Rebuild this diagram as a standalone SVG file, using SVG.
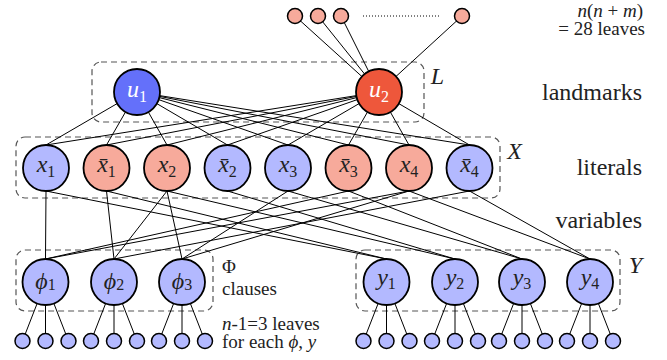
<svg xmlns="http://www.w3.org/2000/svg" width="667" height="360" viewBox="0 0 667 360">
<style>
.e{stroke:#000;stroke-width:1;fill:none}
.n{stroke:#000;stroke-width:1.8}
.lf{stroke:#000;stroke-width:1.5}
.b{fill:#b3b9ff}
.r{fill:#f7aa9b}
.ub{fill:#6470fa}
.ur{fill:#ee573b}
.box{fill:none;stroke:#555;stroke-width:1.2;stroke-dasharray:6 4}
text{font-family:'Liberation Serif','Times New Roman','DejaVu Serif',serif;fill:#222}
.lbl{font-size:24px;font-style:italic;text-anchor:middle}
.w{fill:#fff}
.sub{font-style:normal;font-size:16px}
.rt{font-size:24px;text-anchor:end}
.sm{font-size:19px}
.it{font-style:italic}
</style>
<rect width="667" height="360" fill="#fff"/>
<g id="boxes">
<rect class="box" x="92" y="62" width="332" height="60" rx="9"/>
<rect class="box" x="16" y="137" width="484" height="61" rx="9"/>
<rect class="box" x="16" y="250" width="197" height="61" rx="9"/>
<rect class="box" x="356" y="250" width="264" height="61" rx="9"/>
</g>
<g id="connectors">
<line class="e" x1="295" y1="16" x2="379" y2="92"/>
<line class="e" x1="318" y1="16" x2="379" y2="92"/>
<line class="e" x1="341" y1="16" x2="379" y2="92"/>
<line class="e" x1="462" y1="16" x2="379" y2="92"/>
<line x1="363" y1="16" x2="439" y2="16" stroke="#000" stroke-width="1" stroke-dasharray="1 2"/>
<line class="e" x1="137" y1="92" x2="46" y2="145"/>
<line class="e" x1="137" y1="92" x2="106.5" y2="145"/>
<line class="e" x1="137" y1="92" x2="167" y2="145"/>
<line class="e" x1="137" y1="92" x2="227.5" y2="145"/>
<line class="e" x1="137" y1="92" x2="288" y2="145"/>
<line class="e" x1="137" y1="92" x2="348.5" y2="145"/>
<line class="e" x1="137" y1="92" x2="409" y2="145"/>
<line class="e" x1="137" y1="92" x2="469.5" y2="145"/>
<line class="e" x1="379" y1="92" x2="46" y2="145"/>
<line class="e" x1="379" y1="92" x2="106.5" y2="145"/>
<line class="e" x1="379" y1="92" x2="167" y2="145"/>
<line class="e" x1="379" y1="92" x2="227.5" y2="145"/>
<line class="e" x1="379" y1="92" x2="288" y2="145"/>
<line class="e" x1="379" y1="92" x2="348.5" y2="145"/>
<line class="e" x1="379" y1="92" x2="409" y2="145"/>
<line class="e" x1="379" y1="92" x2="469.5" y2="145"/>
<line class="e" x1="46" y1="191" x2="45.5" y2="259"/>
<line class="e" x1="106.5" y1="191" x2="114" y2="259"/>
<line class="e" x1="167" y1="191" x2="114" y2="259"/>
<line class="e" x1="167" y1="191" x2="182" y2="259"/>
<line class="e" x1="288" y1="191" x2="182" y2="259"/>
<line class="e" x1="348.5" y1="191" x2="45.5" y2="259"/>
<line class="e" x1="409" y1="191" x2="45.5" y2="259"/>
<line class="e" x1="409" y1="191" x2="182" y2="259"/>
<line class="e" x1="469.5" y1="191" x2="114" y2="259"/>
<line class="e" x1="46" y1="191" x2="386.5" y2="259"/>
<line class="e" x1="106.5" y1="191" x2="386.5" y2="259"/>
<line class="e" x1="167" y1="191" x2="455" y2="259"/>
<line class="e" x1="227.5" y1="191" x2="455" y2="259"/>
<line class="e" x1="288" y1="191" x2="522" y2="259"/>
<line class="e" x1="348.5" y1="191" x2="522" y2="259"/>
<line class="e" x1="409" y1="191" x2="590" y2="259"/>
<line class="e" x1="469.5" y1="191" x2="590" y2="259"/>
<line class="e" x1="45.5" y1="282" x2="22.5" y2="341"/>
<line class="e" x1="45.5" y1="282" x2="45.5" y2="341"/>
<line class="e" x1="45.5" y1="282" x2="68.5" y2="341"/>
<line class="e" x1="114" y1="282" x2="91" y2="341"/>
<line class="e" x1="114" y1="282" x2="114" y2="341"/>
<line class="e" x1="114" y1="282" x2="137" y2="341"/>
<line class="e" x1="182" y1="282" x2="159" y2="341"/>
<line class="e" x1="182" y1="282" x2="182" y2="341"/>
<line class="e" x1="182" y1="282" x2="205" y2="341"/>
<line class="e" x1="386.5" y1="282" x2="363.5" y2="341"/>
<line class="e" x1="386.5" y1="282" x2="386.5" y2="341"/>
<line class="e" x1="386.5" y1="282" x2="409.5" y2="341"/>
<line class="e" x1="455" y1="282" x2="432" y2="341"/>
<line class="e" x1="455" y1="282" x2="455" y2="341"/>
<line class="e" x1="455" y1="282" x2="478" y2="341"/>
<line class="e" x1="522" y1="282" x2="499" y2="341"/>
<line class="e" x1="522" y1="282" x2="522" y2="341"/>
<line class="e" x1="522" y1="282" x2="545" y2="341"/>
<line class="e" x1="590" y1="282" x2="567" y2="341"/>
<line class="e" x1="590" y1="282" x2="590" y2="341"/>
<line class="e" x1="590" y1="282" x2="613" y2="341"/>
</g>
<g id="top-leaves">
<circle class="lf r" cx="295" cy="16" r="7.5"/>
<circle class="lf r" cx="318" cy="16" r="7.5"/>
<circle class="lf r" cx="341" cy="16" r="7.5"/>
<circle class="lf r" cx="462" cy="16" r="7.5"/>
</g>
<g id="u1"><circle class="n ub" cx="137" cy="92" r="23"/><text class="lbl w" x="137" y="97">u<tspan class="sub" dy="5">1</tspan></text></g>
<g id="u2"><circle class="n ur" cx="379" cy="92" r="23"/><text class="lbl w" x="379" y="97">u<tspan class="sub" dy="5">2</tspan></text></g>
<g id="x1"><circle class="n b" cx="46" cy="168" r="23"/><text class="lbl" x="46" y="172">x<tspan class="sub" dy="5">1</tspan></text></g>
<g id="nx1"><circle class="n r" cx="106.5" cy="168" r="23"/><text class="lbl" x="106.5" y="172">x&#x304;<tspan class="sub" dy="5">1</tspan></text></g>
<g id="x2"><circle class="n r" cx="167" cy="168" r="23"/><text class="lbl" x="167" y="172">x<tspan class="sub" dy="5">2</tspan></text></g>
<g id="nx2"><circle class="n b" cx="227.5" cy="168" r="23"/><text class="lbl" x="227.5" y="172">x&#x304;<tspan class="sub" dy="5">2</tspan></text></g>
<g id="x3"><circle class="n b" cx="288" cy="168" r="23"/><text class="lbl" x="288" y="172">x<tspan class="sub" dy="5">3</tspan></text></g>
<g id="nx3"><circle class="n r" cx="348.5" cy="168" r="23"/><text class="lbl" x="348.5" y="172">x&#x304;<tspan class="sub" dy="5">3</tspan></text></g>
<g id="x4"><circle class="n r" cx="409" cy="168" r="23"/><text class="lbl" x="409" y="172">x<tspan class="sub" dy="5">4</tspan></text></g>
<g id="nx4"><circle class="n b" cx="469.5" cy="168" r="23"/><text class="lbl" x="469.5" y="172">x&#x304;<tspan class="sub" dy="5">4</tspan></text></g>
<g id="phi1"><circle class="n b" cx="45.5" cy="282" r="23"/><text class="lbl" x="45.5" y="289">ϕ<tspan class="sub" dy="1">1</tspan></text></g>
<g id="phi2"><circle class="n b" cx="114" cy="282" r="23"/><text class="lbl" x="114" y="289">ϕ<tspan class="sub" dy="1">2</tspan></text></g>
<g id="phi3"><circle class="n b" cx="182" cy="282" r="23"/><text class="lbl" x="182" y="289">ϕ<tspan class="sub" dy="1">3</tspan></text></g>
<g id="y1"><circle class="n b" cx="386.5" cy="282" r="23"/><text class="lbl" x="386.5" y="285">y<tspan class="sub" dy="4">1</tspan></text></g>
<g id="y2"><circle class="n b" cx="455" cy="282" r="23"/><text class="lbl" x="455" y="285">y<tspan class="sub" dy="4">2</tspan></text></g>
<g id="y3"><circle class="n b" cx="522" cy="282" r="23"/><text class="lbl" x="522" y="285">y<tspan class="sub" dy="4">3</tspan></text></g>
<g id="y4"><circle class="n b" cx="590" cy="282" r="23"/><text class="lbl" x="590" y="285">y<tspan class="sub" dy="4">4</tspan></text></g>
<g id="bottom-leaves">
<circle class="lf b" cx="22.5" cy="341" r="7.5"/><circle class="lf b" cx="45.5" cy="341" r="7.5"/><circle class="lf b" cx="68.5" cy="341" r="7.5"/>
<circle class="lf b" cx="91" cy="341" r="7.5"/><circle class="lf b" cx="114" cy="341" r="7.5"/><circle class="lf b" cx="137" cy="341" r="7.5"/>
<circle class="lf b" cx="159" cy="341" r="7.5"/><circle class="lf b" cx="182" cy="341" r="7.5"/><circle class="lf b" cx="205" cy="341" r="7.5"/>
<circle class="lf b" cx="363.5" cy="341" r="7.5"/><circle class="lf b" cx="386.5" cy="341" r="7.5"/><circle class="lf b" cx="409.5" cy="341" r="7.5"/>
<circle class="lf b" cx="432" cy="341" r="7.5"/><circle class="lf b" cx="455" cy="341" r="7.5"/><circle class="lf b" cx="478" cy="341" r="7.5"/>
<circle class="lf b" cx="499" cy="341" r="7.5"/><circle class="lf b" cx="522" cy="341" r="7.5"/><circle class="lf b" cx="545" cy="341" r="7.5"/>
<circle class="lf b" cx="567" cy="341" r="7.5"/><circle class="lf b" cx="590" cy="341" r="7.5"/><circle class="lf b" cx="613" cy="341" r="7.5"/>
</g>
<g id="labels">
<text class="sm" x="643" y="17" text-anchor="end"><tspan class="it">n</tspan>(<tspan class="it">n</tspan> + <tspan class="it">m</tspan>)</text>
<text class="sm" x="645" y="35" text-anchor="end">= 28 leaves</text>
<text class="rt" x="642" y="100">landmarks</text>
<text class="rt" x="642" y="175">literals</text>
<text class="rt" x="642" y="228">variables</text>
<text class="rt it" x="444" y="84">L</text>
<text class="rt it" x="522" y="159">X</text>
<text class="rt it" x="642" y="273">Y</text>
<text class="sm" x="222" y="273" font-size="24">Φ</text>
<text class="sm" x="222" y="295" font-size="24">clauses</text>
<text class="sm" x="222" y="330"><tspan class="it">n</tspan>-1=3 leaves</text>
<text class="sm" x="222" y="348">for each <tspan class="it">ϕ</tspan>, <tspan class="it">y</tspan></text>
</g>
</svg>
